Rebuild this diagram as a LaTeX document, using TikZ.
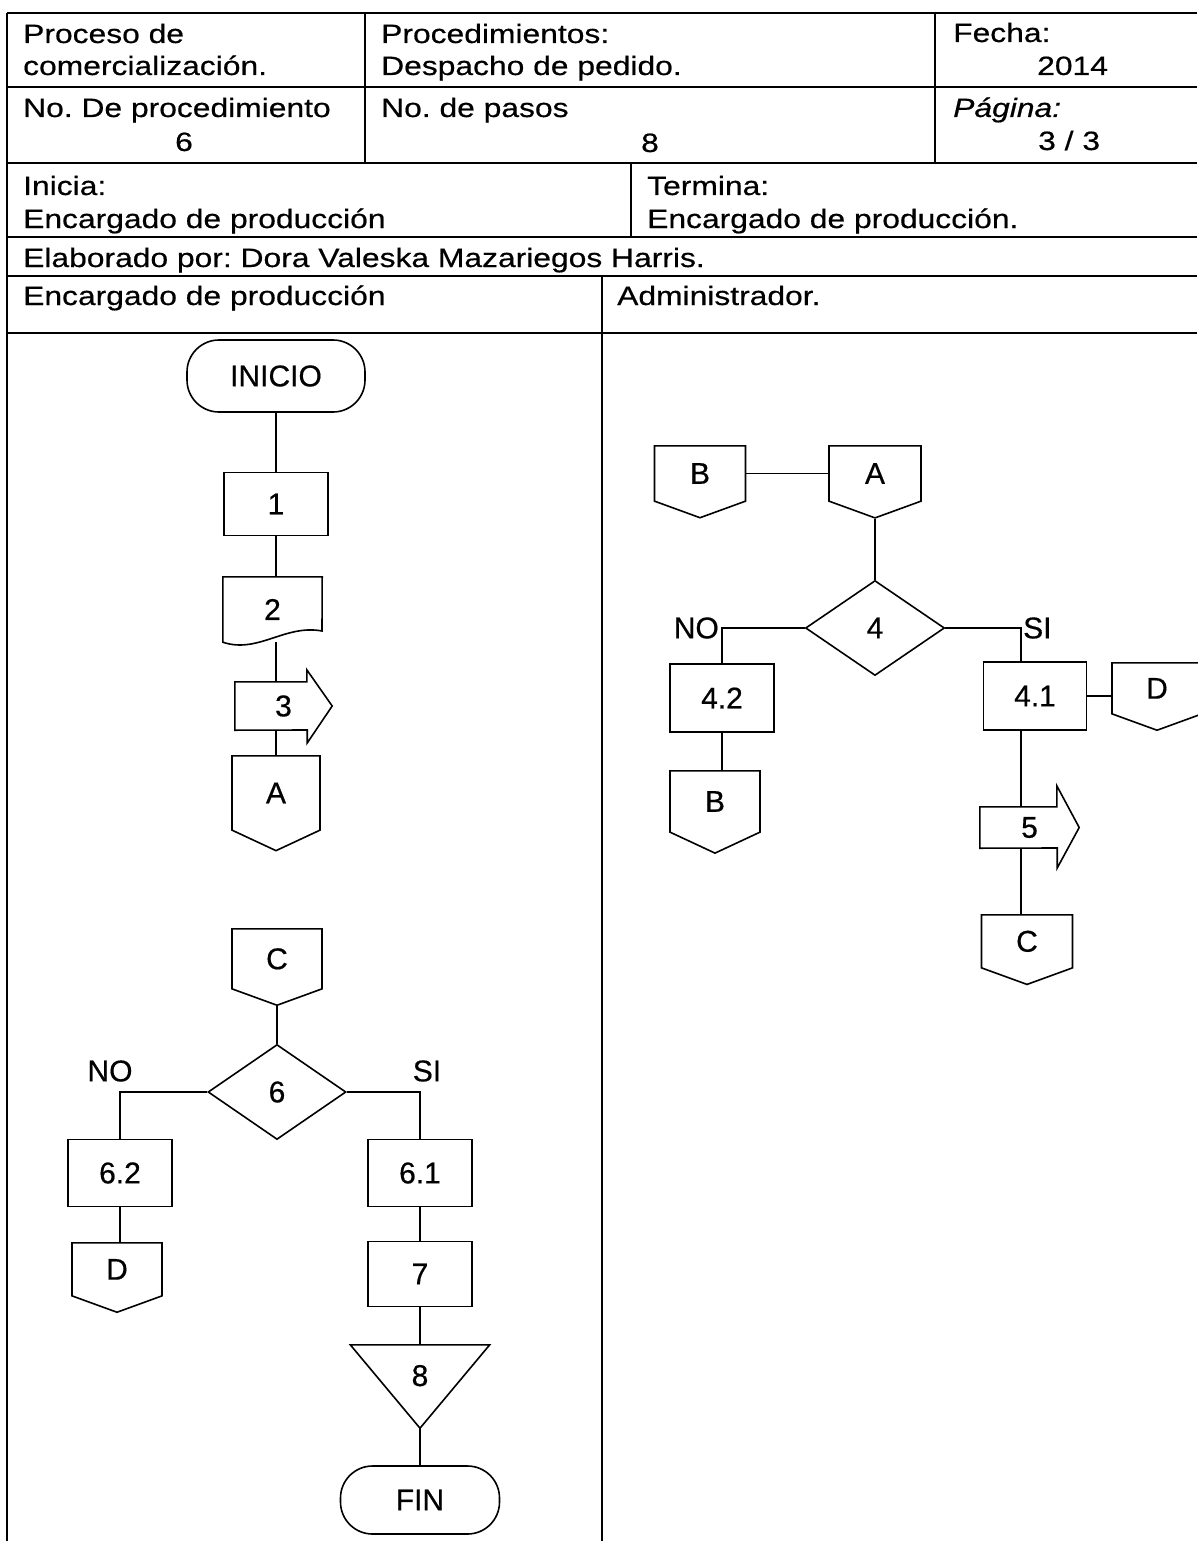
\documentclass[tikz,border=0pt]{standalone}
\usepackage{fontspec}
\setmainfont[FakeBold=0.5]{Liberation Sans}
\newfontfamily\tabfont[FakeStretch=1.2,FakeBold=0.5]{Liberation Sans}
\usetikzlibrary{shapes.geometric,shapes.symbols}
\frenchspacing

\tikzset{
  gridline/.style={line width=1.5pt},
  flow/.style={line width=1.6pt},
  celltext/.style={font=\tabfont\fontsize{26.5}{30}\selectfont, anchor=base west, inner sep=0pt},
  cellnum/.style={celltext, anchor=base},
  shapetext/.style={font=\fontsize{30}{36}\selectfont, inner sep=0pt},
  terminal/.style={shapetext, draw, flow, rounded corners=32pt},
  procbox/.style={shapetext, draw, flow, minimum width=104pt, minimum height=67pt},
  plainbox/.style={shapetext},
  decision/.style={shapetext, diamond, draw, flow, minimum width=138pt, minimum height=95pt},
  offpage/.style={shapetext, signal, signal to=south, signal pointer angle=140, draw, flow,
    minimum width=90pt, minimum height=59pt, anchor=north},
  answer/.style={shapetext}
}

\begin{document}
\begin{tikzpicture}[x=1pt,y=-1pt]
  \useasboundingbox (0,0) rectangle (1197,1541);

  % header table
  \foreach \y in {13,87,163,237,276,333}
    \draw[gridline] (7,\y) -- (1197,\y);
  \draw[gridline] (7,13) -- (7,1541);
  \draw[gridline] (365,13) -- (365,163);
  \draw[gridline] (935,13) -- (935,163);
  \draw[gridline] (631,163) -- (631,237);
  \draw[gridline] (602,276) -- (602,1541);

  \node[celltext] (proc1) at (23,43) {Proceso de};
  \node[celltext] (proc2) at (23,75) {comercialización.};
  \node[celltext] (pdto1) at (381,43) {Procedimientos:};
  \node[celltext] (pdto2) at (381,75) {Despacho de pedido.};
  \node[celltext] (fecha1) at (953,42) {Fecha:};
  \node[celltext] (fecha2) at (1037,75) {2014};
  \node[celltext] (nproc1) at (23,117) {No. De procedimiento};
  \node[cellnum] (nproc2) at (184,151) {6};
  \node[celltext] (npasos1) at (381,117) {No. de pasos};
  \node[cellnum] (npasos2) at (650,152) {8};
  \node[celltext] (pag1) at (953,117) {\itshape Página:};
  \node[celltext] (pag2) at (1038,150) {3 / 3};
  \node[celltext] (inicia1) at (23,195) {Inicia:};
  \node[celltext] (inicia2) at (23,228) {Encargado de producción};
  \node[celltext] (termina1) at (647,195) {Termina:};
  \node[celltext] (termina2) at (647,228) {Encargado de producción.};
  \node[celltext] (autor) at (23,267) {Elaborado por: Dora Valeska Mazariegos Harris.};
  \node[celltext] (lane1) at (23,305) {Encargado de producción};
  \node[celltext] (lane2) at (617,305) {Administrador.};

  % encargado de produccion, part 1
  \node[terminal, minimum width=178pt, minimum height=72pt] (inicio) at (276,376) {INICIO};
  \node[procbox, minimum height=63pt] (p1) at (276,504) {1};
  \node[plainbox, minimum width=99pt, minimum height=65pt] (p2) at (272.5,609.5) {2};
  \draw[flow] (p2.north west) -- (p2.north east) -- (322,631)
    .. controls (285,624) and (258,654) .. (p2.south west) -- cycle;
  \node[plainbox, minimum width=97pt, minimum height=48pt] (p3) at (283.5,706) {3};
  \draw[flow] (p3.north west) -- ++(72,0) -- ++(0,-12) -- (p3.east)
    -- ++(-25,37) -- ++(0,-13) -- (p3.south west) -- cycle;
  \node[offpage, signal pointer angle=130, minimum width=88pt, minimum height=79pt] (outA) at (276,755) {A};
  \draw[flow] (inicio) -- (p1);
  \draw[flow] (p1) -- (p1 |- p2.north);
  \draw[flow] (p1 |- p2.south) -- (p1 |- p3.north);
  \draw[flow] (p1 |- p3.south) -- (outA);

  % encargado de produccion, part 2
  \node[offpage, minimum height=64pt] (inC) at (277,928) {C};
  \node[decision] (d6) at (277,1092) {6};
  \node[procbox] (p62) at (120,1173) {6.2};
  \node[procbox] (p61) at (420,1173) {6.1};
  \node[procbox, minimum height=65pt] (p7) at (420,1274) {7};
  \node[offpage, minimum height=57pt] (outD) at (117,1242) {D};
  \node[plainbox, minimum width=139pt, minimum height=83pt, text depth=22pt] (p8) at (420,1386.5) {8};
  \draw[flow] (p8.north west) -- (p8.north east) -- (p8.south) -- cycle;
  \node[terminal, minimum width=159pt, minimum height=68pt] (fin) at (420,1500) {FIN};
  \node[answer] (no6) at (110,1071) {NO};
  \node[answer] (si6) at (427,1071) {SI};
  \draw[flow] (inC.south) -- (d6.north);
  \draw[flow] (d6.west) -| (p62.north);
  \draw[flow] (d6.east) -| (p61.north);
  \draw[flow] (p62.south) -- (p62.south |- outD.north);
  \draw[flow] (p61) -- (p7);
  \draw[flow] (p7) -- (p8.north);
  \draw[flow] (p8.south) -- (fin);

  % administrador
  \node[offpage, minimum width=91pt] (inB) at (700,445) {B};
  \node[offpage, minimum width=92pt] (inA) at (875,445) {A};
  \node[decision, minimum width=139pt] (d4) at (875,628) {4};
  \node[procbox, minimum height=68pt] (p42) at (722,698) {4.2};
  \node[procbox, minimum width=103pt, minimum height=68pt] (p41) at (1035,696) {4.1};
  \node[offpage, minimum height=55pt] (outD2) at (1157,662) {D};
  \node[offpage, signal pointer angle=130, minimum height=66pt] (outB) at (715,770) {B};
  \node[plainbox, minimum width=99pt, minimum height=41pt] (p5) at (1029.5,827.5) {5};
  \draw[flow] (p5.north west) -- ++(77,0) -- ++(0,-21) -- (p5.east)
    -- ++(-22,40.5) -- ++(0,-20) -- (p5.south west) -- cycle;
  \node[offpage, minimum width=91pt, minimum height=57pt] (outC) at (1027,914) {C};
  \coordinate (si4) at (1021,628);
  \node[answer, anchor=east] (no4) at (719,628) {NO};
  \node[answer, anchor=west] (si4l) at (1023,628) {SI};
  \draw[flow] (inB.east) -- (inA.west);
  \draw[flow] (inA.south) -- (d4.north);
  \draw[flow] (d4.west) -| (p42.north);
  \draw[flow] (d4.east) -- (si4) -- (si4 |- p41.north);
  \draw[flow] (p42.south) -- (p42.south |- outB.north);
  \draw[flow] (p41.east) -- (p41.east -| outD2.west);
  \draw[flow] (si4 |- p41.south) -- (si4 |- p5.north);
  \draw[flow] (si4 |- p5.south) -- (si4 |- outC.north);
\end{tikzpicture}
\end{document}
